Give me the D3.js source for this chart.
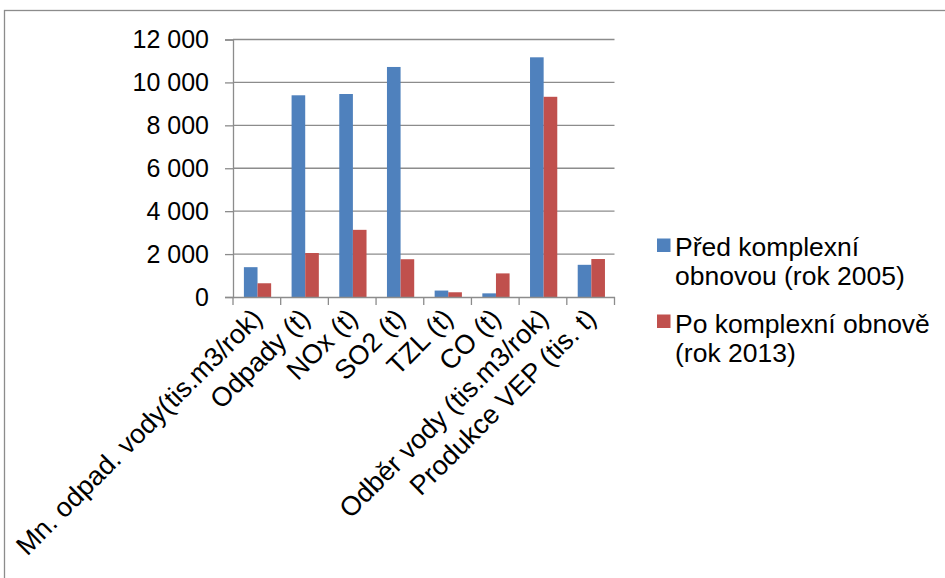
<!DOCTYPE html>
<html>
<head>
<meta charset="utf-8">
<script src="https://cdn.jsdelivr.net/npm/d3@7"></script>
<style>
  html, body { margin: 0; padding: 0; background: #fff; }
  svg { display: block; font-family: "Liberation Sans", Arial, sans-serif; }
</style>
</head>
<body>
<svg id="chart" width="945" height="578"></svg>
<script>
// Environmental indicators before and after the plant's complex renovation
const categories = [
  "Mn. odpad. vody(tis.m3/rok)",
  "Odpady (t)",
  "NOx (t)",
  "SO2 (t)",
  "TZL (t)",
  "CO (t)",
  "Odběr vody (tis.m3/rok)",
  "Produkce VEP (tis. t)"
];
const before2005 = [1390, 9400, 9460, 10720, 300, 170, 11170, 1500];
const after2013 = [640, 2050, 3130, 1760, 220, 1100, 9330, 1770];
const seriesNames = [
  ["Před komplexní", "obnovou (rok 2005)"],
  ["Po komplexní obnově", "(rok 2013)"]
];
const yTicks = [0, 2000, 4000, 6000, 8000, 10000, 12000];

const colors = ["#4F81BD", "#C0504D"];
const gridColor = "#8c8c8c";

const svg = d3.select("#chart");

// outer frame of the chart object
svg.append("rect")
  .attr("x", 4.5).attr("y", 10.5)
  .attr("width", 1000).attr("height", 1000)
  .attr("fill", "none").attr("stroke", gridColor).attr("stroke-width", 1.3);

const plot = { left: 233, right: 614.5, top: 39.5, bottom: 297 };

const x = d3.scaleBand()
  .domain(categories)
  .range([plot.left, plot.right])
  .paddingInner(0).paddingOuter(0);

const y = d3.scaleLinear()
  .domain([0, 12000])
  .range([plot.bottom, plot.top]);

const fmt = v => d3.format(",")(v).replace(/,/g, "\u00a0");

// horizontal gridlines
svg.append("g")
  .selectAll("line")
  .data(yTicks.filter(t => t > 0))
  .join("line")
  .attr("x1", plot.left).attr("x2", plot.right)
  .attr("y1", d => y(d)).attr("y2", d => y(d))
  .attr("stroke", gridColor).attr("stroke-width", 1.3);

// y axis
const yAxis = svg.append("g")
  .attr("transform", `translate(${plot.left},0)`)
  .call(d3.axisLeft(y).tickValues(yTicks).tickFormat(fmt).tickSize(8).tickPadding(16));
yAxis.select(".domain").attr("stroke", gridColor).attr("stroke-width", 1.3);
yAxis.selectAll(".tick line").attr("stroke", gridColor).attr("stroke-width", 1.3);
yAxis.selectAll(".tick text")
  .attr("fill", "#000").attr("font-size", 25)
  .attr("font-family", "Liberation Sans, Arial, sans-serif");

// bars
const barW = x.bandwidth() / 3.5;
const offset = barW * 0.8;
const seriesData = [before2005, after2013];
seriesData.forEach((vals, si) => {
  svg.append("g")
    .selectAll("rect")
    .data(vals)
    .join("rect")
    .attr("x", (d, i) => x(categories[i]) + offset + si * barW)
    .attr("y", d => y(d))
    .attr("width", barW)
    .attr("height", d => y(0) - y(d))
    .attr("fill", colors[si]);
});

// x axis
const xAxis = svg.append("g")
  .attr("transform", `translate(0,${plot.bottom})`)
  .call(d3.axisBottom(x).tickSize(0).tickFormat(""));
xAxis.select(".domain").attr("stroke", gridColor).attr("stroke-width", 1.3);

// category boundary tick marks
svg.append("g")
  .selectAll("line")
  .data(d3.range(categories.length + 1))
  .join("line")
  .attr("x1", i => plot.left + i * x.step())
  .attr("x2", i => plot.left + i * x.step())
  .attr("y1", plot.bottom).attr("y2", plot.bottom + 8)
  .attr("stroke", gridColor).attr("stroke-width", 1.3);

// rotated category labels
svg.append("g")
  .selectAll("text")
  .data(categories)
  .join("text")
  .attr("transform", d => `translate(${x(d) + x.bandwidth() / 2 + 7},${plot.bottom + 23}) rotate(-45)`)
  .attr("text-anchor", "end")
  .attr("font-size", 27)
  .attr("fill", "#000")
  .text(d => d);

// legend
const legend = svg.append("g");
const legendRows = [
  { sq: 238.5, base: [256, 285] },
  { sq: 314.5, base: [333, 362] }
];
seriesNames.forEach((lines, i) => {
  legend.append("rect")
    .attr("x", 657).attr("y", legendRows[i].sq)
    .attr("width", 13.5).attr("height", 13.5)
    .attr("fill", colors[i]);
  lines.forEach((t, j) => {
    legend.append("text")
      .attr("x", 675).attr("y", legendRows[i].base[j])
      .attr("font-size", 26.5)
      .attr("fill", "#000")
      .text(t);
  });
});
</script>
</body>
</html>
